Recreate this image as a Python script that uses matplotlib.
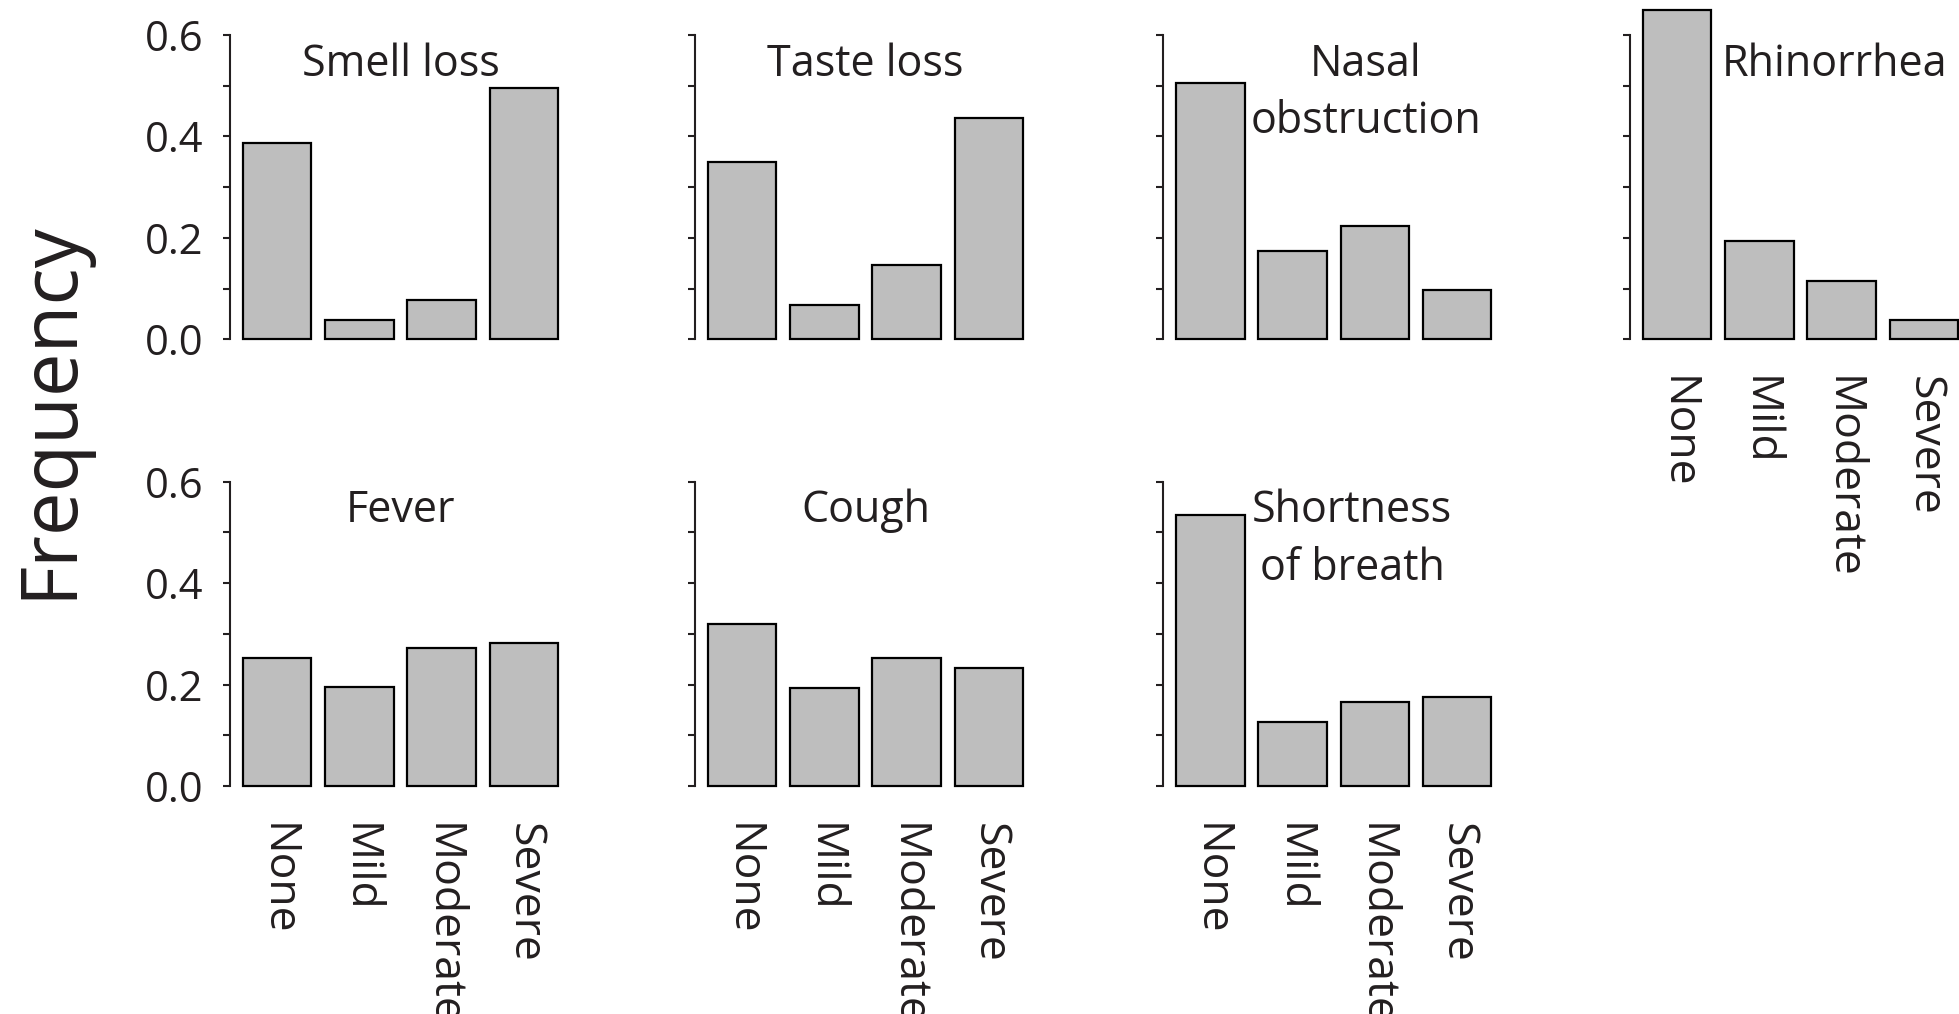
import matplotlib.pyplot as plt
import numpy as np

plt.rcParams["font.family"] = ["Open Sans", "DejaVu Sans"]

INK = "#231f20"
BAR_GREY = "#bebebe"

levels = ["None", "Mild", "Moderate", "Severe"]

smell_loss = [0.388, 0.039, 0.077, 0.495]
taste_loss = [0.350, 0.068, 0.146, 0.437]
nasal_obstruction = [0.506, 0.175, 0.223, 0.097]
rhinorrhea = [0.650, 0.193, 0.115, 0.038]
fever = [0.253, 0.195, 0.272, 0.282]
cough = [0.320, 0.193, 0.252, 0.233]
shortness_of_breath = [0.534, 0.127, 0.166, 0.175]

# title, values, row, column, title x (bar units), category labels shown
panels = [
    ("Smell loss", smell_loss, 0, 0, 2.5, False),
    ("Taste loss", taste_loss, 0, 1, 2.5, False),
    ("Nasal\nobstruction", nasal_obstruction, 0, 2, 2.97, False),
    ("Rhinorrhea", rhinorrhea, 0, 3, 3.0, True),
    ("Fever", fever, 1, 0, 2.5, True),
    ("Cough", cough, 1, 1, 2.5, True),
    ("Shortness\nof breath", shortness_of_breath, 1, 2, 2.77, True),
]

W, H = 1959, 1014
col_left = [230, 695, 1163.3, 1630]
row_bottom = [339.3, 786]
ax_w, ax_h = 340.8, 304.3

# barplot-style layout: unit-wide bars with 0.2 spacing
xpos = 0.7 + 1.2 * np.arange(len(levels))


def main():
    fig = plt.figure(figsize=(W / 100, H / 100), dpi=100)

    for title, values, row, col, tx, show_levels in panels:
        ax = fig.add_axes([col_left[col] / W, 1 - row_bottom[row] / H,
                           ax_w / W, ax_h / H])
        ax.bar(xpos, values, width=1.0, color=BAR_GREY, edgecolor="black",
               linewidth=1.6, clip_on=False)
        ax.set_xlim(0.016, 4.984)
        ax.set_ylim(0, 0.6)

        for side in ("top", "right", "bottom"):
            ax.spines[side].set_visible(False)
        ax.spines["left"].set_linewidth(1.5)
        ax.spines["left"].set_color(INK)

        ax.set_yticks(np.arange(0, 0.61, 0.1))
        if col == 0:
            ax.set_yticklabels(["0.0", "", "0.2", "", "0.4", "", "0.6"])
        else:
            ax.set_yticklabels([])
        ax.tick_params(axis="y", length=5, width=1.5, color=INK,
                       labelsize=30, labelcolor=INK, pad=14)

        if show_levels:
            ax.set_xticks(xpos)
            ax.set_xticklabels(levels, rotation=-90, fontsize=32,
                               color=INK)
            ax.tick_params(axis="x", length=0, pad=26.5)
        else:
            ax.set_xticks([])

        ax.text(tx, 0.586, title, ha="center", va="top", fontsize=31,
                color=INK, linespacing=1.38, multialignment="center")

    fig.text(50 / W, 1 - 410 / H, "Frequency", rotation=90, ha="center",
             va="center", fontsize=56, color=INK)

    fig.savefig("out.png", dpi=100)


if __name__ == "__main__":
    main()
